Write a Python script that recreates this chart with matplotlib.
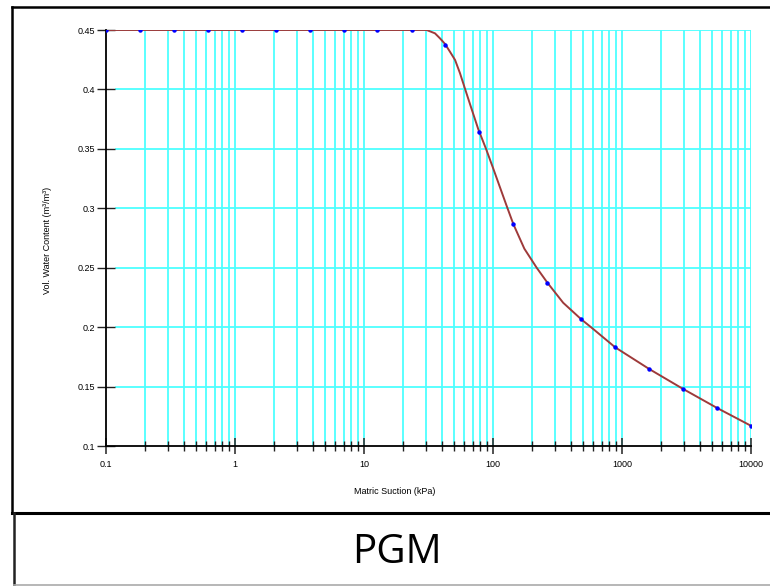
import matplotlib
matplotlib.use("Agg")
import matplotlib.pyplot as plt
from matplotlib.lines import Line2D

# ---- data ----
point_suction = [0.1, 0.183, 0.336, 0.616, 1.13, 2.07, 3.79, 6.95, 12.7, 23.4,
                 42.8, 78.5, 144, 264, 483, 886, 1624, 2976, 5456, 10000]
point_theta = [0.45, 0.45, 0.45, 0.45, 0.45, 0.45, 0.45, 0.45, 0.45, 0.45,
               0.4376, 0.364, 0.2865, 0.2374, 0.2066, 0.183, 0.1648, 0.148, 0.132, 0.117]

curve_suction = [0.1, 30.6, 35.5, 38.8, 42.5, 46.4, 50.8, 55.5, 60.7, 66.4, 76.9,
                 88.3, 100, 127.6, 144, 175, 218, 264, 350, 483, 582, 886,
                 1624, 2976, 5456, 10000]
curve_theta = [0.45, 0.45, 0.4472, 0.443, 0.4382, 0.4317, 0.4248, 0.4136, 0.4005, 0.3875, 0.3665,
               0.35, 0.334, 0.302, 0.2865, 0.266, 0.25, 0.2374, 0.2205, 0.2066, 0.1995, 0.183,
               0.1648, 0.148, 0.132, 0.117]

x_major = [0.1, 1, 10, 100, 1000, 10000]
x_major_labels = ["0.1", "1", "10", "100", "1000", "10000"]
y_ticks = [0.1, 0.15, 0.2, 0.25, 0.3, 0.35, 0.4, 0.45]
y_labels = ["0.1", "0.15", "0.2", "0.25", "0.3", "0.35", "0.4", "0.45"]

plt.rcParams['font.family'] = ['Liberation Sans', 'DejaVu Sans']

W, H = 770, 586
fig = plt.figure(figsize=(W / 100, H / 100), dpi=100)

left, right, top, bottom = 106, 751, 30, 446
ax = fig.add_axes([left / W, 1 - bottom / H, (right - left) / W, (bottom - top) / H])
ax.set_xscale('log')
ax.set_xlim(0.1, 10000)
ax.set_ylim(0.1, 0.45)

cyan = '#4DFFFF'
minor_pos = []
for d in [0.1, 1, 10, 100, 1000]:
    for m in range(2, 10):
        minor_pos.append(d * m)
for xv in minor_pos + x_major[1:]:
    ax.axvline(xv, color=cyan, lw=1.3, zorder=1)
for yv in y_ticks[1:]:
    ax.axhline(yv, xmin=10 / (right - left), xmax=1, color=cyan, lw=1.3, zorder=1)

ax.plot(curve_suction, curve_theta, color='#9E3A3A', lw=1.4, zorder=3)
ax.plot(point_suction, point_theta, linestyle='none', marker='o', ms=2.2,
        color='#0000FF', zorder=4)

ax.set_xticks(x_major)
ax.set_xticklabels(x_major_labels)
ax.set_xticks(minor_pos, minor=True)
ax.xaxis.set_minor_formatter(matplotlib.ticker.NullFormatter())
ax.set_yticks(y_ticks)
ax.set_yticklabels(y_labels)
ax.yaxis.set_minor_locator(matplotlib.ticker.NullLocator())

ax.tick_params(axis='x', which='major', direction='inout', length=12, width=1.2,
               color='#333333', labelsize=6.5, pad=4)
ax.tick_params(axis='x', which='minor', direction='inout', length=6.5, width=1.0,
               color='#222222')
ax.tick_params(axis='y', which='major', direction='inout', length=13, width=1.0,
               color='#222222', labelsize=6.5, pad=1)

for s in ['top', 'right']:
    ax.spines[s].set_visible(False)
for s in ['left', 'bottom']:
    ax.spines[s].set_linewidth(1.3)
    ax.spines[s].set_color('black')

fig.text(395 / W, 1 - 491 / H, "Matric Suction (kPa)", ha='center', va='center', fontsize=6.5)
fig.text(48 / W, 1 - 240 / H, "Vol. Water Content (m³/m³)", ha='center', va='center',
         rotation=90, fontsize=6.5)

def fl(x0, y0, x1, y1, color='black', lw=2.0):
    fig.add_artist(Line2D([x0 / W, x1 / W], [1 - y0 / H, 1 - y1 / H],
                          color=color, lw=lw, transform=fig.transFigure))

fl(12.5, 6.5, 770, 6.5, lw=1.8)
fl(12.5, 6.5, 12.5, 513, lw=1.8)
fl(12.5, 513, 770, 513, lw=2.2)
fl(13.5, 513, 13.5, 586, color='#222222', lw=1.8)
fl(13.5, 585.3, 770, 585.3, color='#AAAAAA', lw=1.2)

fig.text(397 / W, 1 - 553 / H, "PGM", ha='center', va='center', fontsize=29,
         family=['Open Sans', 'DejaVu Sans'])

fig.savefig("out.png", dpi=100)
